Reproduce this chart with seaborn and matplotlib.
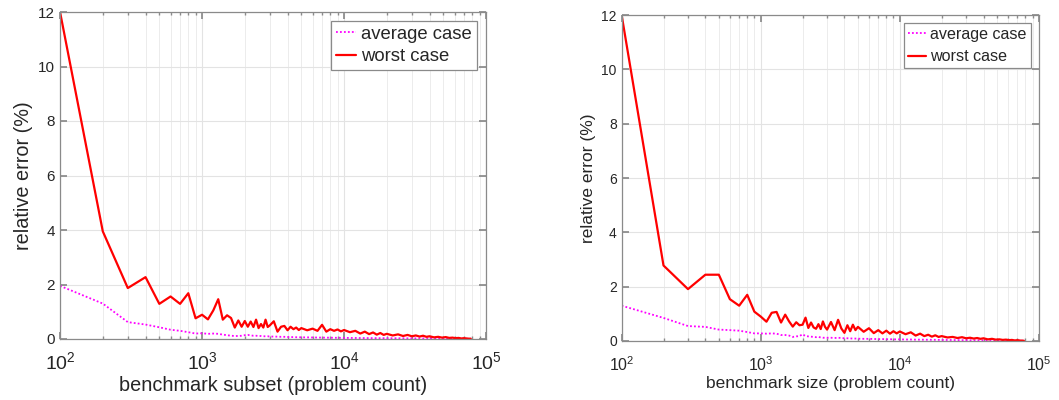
import matplotlib
matplotlib.use("Agg")
import matplotlib.pyplot as plt
import seaborn as sns
import pandas as pd
from matplotlib.ticker import LogLocator, NullFormatter

# ---------------- data ----------------
problem_counts = (list(range(100, 3001, 100)) + list(range(3200, 5001, 200))
                  + list(range(5500, 10001, 500)) + list(range(11000, 20001, 1000))
                  + list(range(22000, 40001, 2000))
                  + [43000, 46000, 49000, 52000, 55000, 58000, 61000, 64000, 67000, 70000, 74000, 78000])

subset_worst = [12.0, 3.95, 1.87, 2.27, 1.29, 1.56, 1.29, 1.68, 0.76, 0.89,
                0.72, 1.05, 1.46, 0.71, 0.87, 0.77, 0.42, 0.68, 0.45, 0.66,
                0.45, 0.64, 0.44, 0.71, 0.40, 0.55, 0.42, 0.71, 0.44, 0.50,
                0.65, 0.27, 0.45, 0.48, 0.32, 0.45, 0.36, 0.42, 0.33, 0.40,
                0.32, 0.38, 0.30, 0.52, 0.27, 0.36, 0.30, 0.35, 0.28, 0.33,
                0.25, 0.30, 0.20, 0.27, 0.18, 0.24, 0.16, 0.22, 0.15, 0.19,
                0.13, 0.17, 0.11, 0.15, 0.10, 0.13, 0.09, 0.12, 0.08, 0.10,
                0.06, 0.08, 0.05, 0.07, 0.04, 0.05, 0.03, 0.04, 0.02, 0.03, 0.015, 0.01]

subset_avg = [1.95, 1.30, 0.62, 0.53, 0.43, 0.34, 0.30, 0.25, 0.20, 0.21,
              0.19, 0.20, 0.19, 0.16, 0.14, 0.12, 0.11, 0.11, 0.12, 0.14,
              0.15, 0.13, 0.12, 0.12, 0.11, 0.11, 0.10, 0.10, 0.10, 0.09,
              0.09, 0.085, 0.08, 0.08, 0.075, 0.07, 0.07, 0.065, 0.065, 0.06,
              0.06, 0.055, 0.055, 0.05, 0.05, 0.048, 0.045, 0.045, 0.042, 0.04,
              0.04, 0.038, 0.036, 0.035, 0.034, 0.033, 0.032, 0.031, 0.03, 0.03,
              0.028, 0.027, 0.026, 0.025, 0.024, 0.023, 0.022, 0.021, 0.02, 0.02,
              0.019, 0.018, 0.017, 0.016, 0.015, 0.014, 0.013, 0.012, 0.011, 0.01, 0.01, 0.01]

size_worst = [12.0, 2.78, 1.91, 2.44, 2.44, 1.54, 1.30, 1.70, 1.08, 0.90,
              0.71, 1.04, 1.07, 0.68, 0.97, 0.72, 0.53, 0.69, 0.58, 0.60,
              0.86, 0.48, 0.68, 0.50, 0.45, 0.62, 0.44, 0.72, 0.52, 0.42,
              0.70, 0.40, 0.78, 0.46, 0.30, 0.58, 0.36, 0.60, 0.40, 0.52,
              0.34, 0.47, 0.29, 0.40, 0.28, 0.38, 0.27, 0.36, 0.28, 0.35,
              0.25, 0.32, 0.20, 0.27, 0.18, 0.23, 0.16, 0.21, 0.15, 0.18,
              0.13, 0.15, 0.11, 0.14, 0.10, 0.12, 0.09, 0.11, 0.08, 0.10,
              0.06, 0.08, 0.05, 0.06, 0.04, 0.05, 0.03, 0.04, 0.02, 0.03, 0.015, 0.01]

size_avg = [1.30, 0.85, 0.55, 0.52, 0.42, 0.40, 0.38, 0.33, 0.28, 0.28,
            0.27, 0.28, 0.27, 0.22, 0.22, 0.20, 0.15, 0.17, 0.18, 0.25,
            0.18, 0.17, 0.16, 0.15, 0.14, 0.15, 0.13, 0.12, 0.12, 0.12,
            0.12, 0.11, 0.12, 0.11, 0.10, 0.10, 0.095, 0.09, 0.09, 0.085,
            0.08, 0.08, 0.075, 0.07, 0.07, 0.065, 0.065, 0.06, 0.06, 0.06,
            0.055, 0.055, 0.05, 0.05, 0.048, 0.046, 0.045, 0.044, 0.042, 0.04,
            0.038, 0.036, 0.034, 0.032, 0.03, 0.029, 0.028, 0.026, 0.025, 0.024,
            0.022, 0.02, 0.019, 0.018, 0.017, 0.016, 0.015, 0.014, 0.013, 0.012, 0.011, 0.01]

series_labels = ["average case", "worst case"]
y_ticks = [0, 2, 4, 6, 8, 10, 12]

# ---------------- style ----------------
sns.set_theme(style="white")
plt.rcParams["font.family"] = ["Liberation Sans", "DejaVu Sans"]
plt.rcParams["mathtext.fontset"] = "custom"
plt.rcParams["mathtext.rm"] = "Liberation Sans"
plt.rcParams["mathtext.it"] = "Liberation Sans"

fig = plt.figure(figsize=(10.59, 4.0), dpi=100)
fig.patch.set_facecolor("white")

panels = [
    dict(rect=[0.0567, 0.1525, 0.4023, 0.8175], avg=subset_avg, worst=subset_worst,
         xlabel="benchmark subset (problem count)", lab=14.3, tick=11, xtick=14,
         leg=13.3, lspace=0.3, xpad=9, xlpad=2),
    dict(rect=[0.587, 0.1475, 0.394, 0.815], avg=size_avg, worst=size_worst,
         xlabel="benchmark size (problem count)", lab=12.5, tick=10, xtick=11.5,
         leg=11.6, lspace=0.45, xpad=10, xlpad=2),
]

frame_col = "#8a8a8a"
for p in panels:
    ax = fig.add_axes(p["rect"])
    df = pd.DataFrame({"n": problem_counts, "avg": p["avg"], "worst": p["worst"]})
    sns.lineplot(data=df, x="n", y="avg", ax=ax, color="#ff00ff", linestyle=(0, (1, 1.2)),
                 linewidth=1.3, label=series_labels[0], estimator=None, sort=False)
    sns.lineplot(data=df, x="n", y="worst", ax=ax, color="#ff0000", linestyle="-",
                 linewidth=1.6, label=series_labels[1], estimator=None, sort=False)
    ax.set_xscale("log")
    ax.set_xlim(100, 1e5)
    ax.set_ylim(0, 12)
    ax.set_yticks(y_ticks)
    ax.xaxis.set_major_locator(LogLocator(base=10, numticks=10))
    ax.xaxis.set_minor_locator(LogLocator(base=10, subs=range(2, 10), numticks=10))
    ax.xaxis.set_minor_formatter(NullFormatter())
    ax.grid(True, which="major", axis="both", color="#e3e3e3", linewidth=0.8)
    ax.grid(True, which="minor", axis="x", color="#ececec", linewidth=0.7)
    ax.set_axisbelow(True)
    for s in ax.spines.values():
        s.set_visible(True)
        s.set_color(frame_col)
        s.set_linewidth(0.9)
    ax.tick_params(which="both", direction="in", top=True, right=True, bottom=True, left=True,
                   colors=frame_col, labelcolor="#262626", labelsize=p["tick"])
    ax.tick_params(which="major", length=5)
    ax.tick_params(which="minor", length=2.5)
    ax.tick_params(axis="x", which="major", labelsize=p["xtick"], pad=p["xpad"])
    ax.set_xlabel(p["xlabel"], fontsize=p["lab"], color="#262626", labelpad=p["xlpad"])
    ax.set_ylabel("relative error (%)", fontsize=p["lab"], color="#262626", labelpad=4)
    leg = ax.legend(loc="upper right", fontsize=p["leg"], frameon=True, fancybox=False,
                    edgecolor=frame_col, framealpha=1, handlelength=1.1, handletextpad=0.3,
                    borderpad=0.25, labelspacing=p["lspace"], borderaxespad=0.5)
    leg.get_frame().set_linewidth(0.9)

fig.savefig("out.png", dpi=100, facecolor="white")
